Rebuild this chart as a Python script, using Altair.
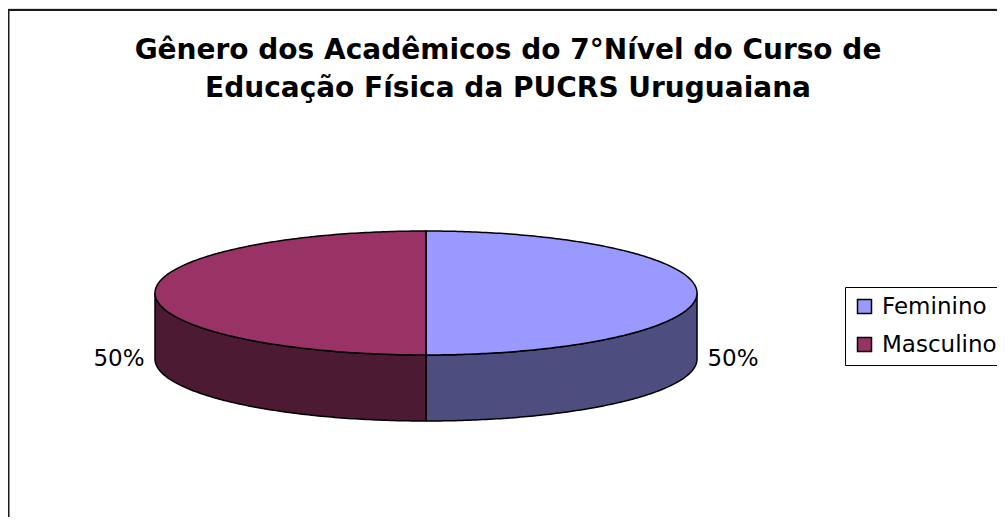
import altair as alt
import numpy as np
import pandas as pd

# ---- data ----
categories = ["Feminino", "Masculino"]
shares = [50, 50]
top_colors = ["#9999FF", "#993366"]
side_colors = ["#4D4D80", "#4D1A33"]
title_lines = ["Gênero dos Acadêmicos do 7°Nível do Curso de",
               "Educação Física da PUCRS Uruguaiana"]

# ---- pie geometry (reference pixel space) ----
CX, CY = 426.0, 293.0      # centre of top face
A, B = 271.0, 62.0         # ellipse semi-axes
DEPTH = 66.0               # thickness of the pie
N = 120

total = float(sum(shares))
top_rows, side_rows, label_rows = [], [], []
start = 0.0
for cat, val, tc, sc in zip(categories, shares, top_colors, side_colors):
    frac = val / total
    t0, t1 = start, start + frac * 2 * np.pi
    start = t1
    mid = (t0 + t1) / 2
    direction = 1.0 if np.sin(mid) >= 0 else -1.0
    s = np.linspace(0, np.pi / 2, N)
    xs = CX + direction * A * np.sin(s)
    up = CY - B * np.cos(s)
    lo = CY + B * np.cos(s)
    for x, u, l in zip(xs, up, lo):
        top_rows.append({"x": x, "y": u, "y2": l, "cat": cat})
        side_rows.append({"x": x, "y": l, "y2": l + DEPTH, "side": sc, "cat": cat})
    label_rows.append({
        "x": CX + (A + 36) * np.sin(mid),
        "y": CY + DEPTH,
        "text": f"{round(frac * 100)}%",
    })

top_df = pd.DataFrame(top_rows)
side_df = pd.DataFrame(side_rows)
label_df = pd.DataFrame(label_rows)

W, H = 989, 509
xs_ = alt.Scale(domain=[8, 8 + W], nice=False, zero=False)
ys_ = alt.Scale(domain=[8, 8 + H], nice=False, zero=False, reverse=True)
FONT = "DejaVu Sans"

frame = alt.Chart(pd.DataFrame({"k": [0]})).mark_rect(
    fill=None, stroke="#1a1a1a", strokeWidth=2
).encode(x=alt.value(0.5), x2=alt.value(1100), y=alt.value(2), y2=alt.value(700))

sides = alt.Chart(side_df).mark_area(stroke="black", strokeWidth=1.5).encode(
    x=alt.X("x:Q", scale=xs_, axis=None),
    y=alt.Y("y:Q", scale=ys_, axis=None),
    y2="y2:Q",
    fill=alt.Fill("side:N", scale=None),
    detail="cat:N",
)

tops = alt.Chart(top_df).mark_area(stroke="black", strokeWidth=1.5).encode(
    x=alt.X("x:Q", scale=xs_, axis=None),
    y=alt.Y("y:Q", scale=ys_, axis=None),
    y2="y2:Q",
    color=alt.Color(
        "cat:N",
        scale=alt.Scale(domain=categories, range=top_colors),
        legend=alt.Legend(
            title=None, orient="none", legendX=837, legendY=279,
            symbolType="square", symbolSize=196, symbolStrokeColor="black",
            symbolStrokeWidth=1.5, symbolOpacity=1,
            labelFontSize=23, labelFont=FONT, labelColor="black",
            rowPadding=14, padding=8, strokeColor="black",
            fillColor="white", labelLimit=400, labelOffset=6,
        ),
    ),
)

labels = alt.Chart(label_df).mark_text(
    font=FONT, fontSize=23, color="black", align="center", baseline="middle"
).encode(
    x=alt.X("x:Q", scale=xs_, axis=None),
    y=alt.Y("y:Q", scale=ys_, axis=None),
    text="text:N",
)

title_layers = []
for line, ypos in zip(title_lines, [43, 81]):
    title_layers.append(
        alt.Chart(pd.DataFrame({"t": [line]})).mark_text(
            font=FONT, fontSize=28, fontWeight="bold", color="black",
            align="center", baseline="middle"
        ).encode(x=alt.value(500), y=alt.value(ypos), text="t:N")
    )

chart = alt.layer(frame, sides, tops, labels, *title_layers).resolve_scale(
    color="independent"
).properties(
    width=W, height=H, autosize=alt.AutoSizeParams(type="none"), padding=0
).configure_view(stroke=None).configure(background="white")

chart.save("out.html", embed_options={"renderer": "svg", "actions": False})
